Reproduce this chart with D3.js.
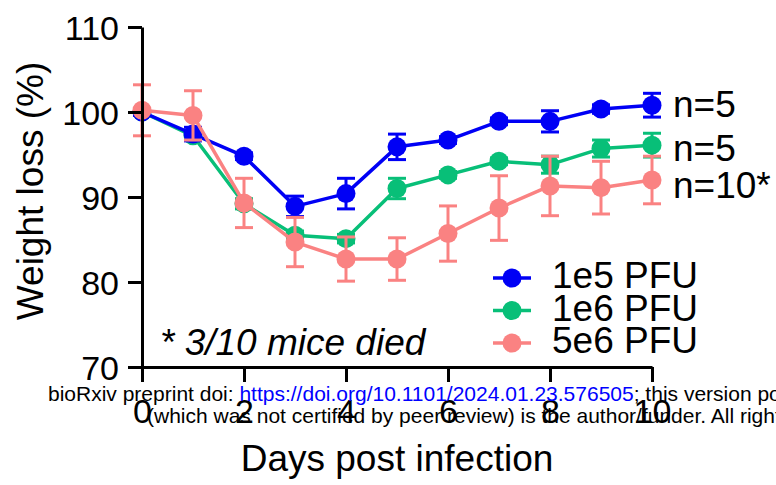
<!DOCTYPE html>
<html>
<head>
<meta charset="utf-8">
<script src="https://cdn.jsdelivr.net/npm/d3@7"></script>
<style>
    html, body { margin: 0; padding: 0; background: #fff; }
    svg { display: block; font-family: "Liberation Sans", Arial, sans-serif; }
</style>
</head>
<body>
<svg id="chart" width="776" height="485"></svg>
<script>
// values (mean +/- error), days 0..10
var days = [0, 1, 2, 3, 4, 5, 6, 7, 8, 9, 10];
var yTicks = [70, 80, 90, 100, 110];
var xTicks = [0, 2, 4, 6, 8, 10];

var mean1e5 = [100.0, 97.4, 94.8, 88.9, 90.4, 95.9, 96.7, 98.9, 98.9, 100.35, 100.8];
var err1e5  = [0.4, 0.8, 0.4, 1.2, 1.8, 1.5, 0.4, 0.4, 1.25, 0.5, 1.4];

var mean1e6 = [100.0, 97.2, 89.2, 85.5, 85.1, 91.0, 92.6, 94.2, 93.8, 95.7, 96.1];
var err1e6  = [0.3, 0.5, 0.6, 0.5, 0.5, 1.2, 0.4, 0.4, 1.0, 1.0, 1.4];

var mean5e6 = [100.2, 99.6, 89.3, 84.7, 82.7, 82.7, 85.7, 88.7, 91.3, 91.1, 92.0];
var err5e6  = [3.0, 2.9, 2.9, 2.9, 2.6, 2.5, 3.25, 3.8, 3.5, 3.1, 2.8];

var seriesNames = ['1e5 PFU', '1e6 PFU', '5e6 PFU'];
var seriesCounts = ['n=5', 'n=5', 'n=10*'];

(function() {
    'use strict';

    var colors = {'1e5 PFU': '#0000f5', '1e6 PFU': '#08bf78', '5e6 PFU': '#fa8282'};

    var series = [
        {name: seriesNames[0], mean: mean1e5, err: err1e5, n: seriesCounts[0]},
        {name: seriesNames[1], mean: mean1e6, err: err1e6, n: seriesCounts[1]},
        {name: seriesNames[2], mean: mean5e6, err: err5e6, n: seriesCounts[2]}
    ];
    // green underneath, then blue, pink on top
    var drawOrder = [series[1], series[0], series[2]];

    var svg = d3.select('#chart');
    svg.append('rect').attr('width', 776).attr('height', 485).attr('fill', '#fff');

    var x = d3.scaleLinear().domain([0, 10]).range([142, 652]),
        y = d3.scaleLinear().domain([70, 110]).range([367, 27]);

    // series
    var line = d3.line()
        .x(function(d) { return x(d.day); })
        .y(function(d) { return y(d.v); });

    drawOrder.forEach(function(s) {
        var c = colors[s.name];
        var pts = days.map(function(dd, i) { return {day: dd, v: s.mean[i], e: s.err[i]}; });
        var g = svg.append('g').attr('class', 'series');

        var bars = g.selectAll('g.err').data(pts).enter().append('g').attr('class', 'err')
            .attr('stroke', c).attr('stroke-width', 3).attr('fill', 'none');
        bars.append('line')
            .attr('x1', function(d) { return x(d.day); })
            .attr('x2', function(d) { return x(d.day); })
            .attr('y1', function(d) { return y(d.v + d.e); })
            .attr('y2', function(d) { return y(d.v - d.e); });
        [1, -1].forEach(function(sign) {
            bars.append('line')
                .attr('x1', function(d) { return x(d.day) - 9; })
                .attr('x2', function(d) { return x(d.day) + 9; })
                .attr('y1', function(d) { return y(d.v + sign * d.e); })
                .attr('y2', function(d) { return y(d.v + sign * d.e); });
        });

        g.append('path').datum(pts)
            .attr('d', line)
            .attr('fill', 'none')
            .attr('stroke', c)
            .attr('stroke-width', 3.5)
            .attr('stroke-linejoin', 'round');

        g.selectAll('circle').data(pts).enter().append('circle')
            .attr('cx', function(d) { return x(d.day); })
            .attr('cy', function(d) { return y(d.v); })
            .attr('r', 9.5)
            .attr('fill', c);
    });

    // axes
    var yAxis = svg.append('g')
        .attr('transform', 'translate(' + x(0) + ',0)')
        .call(d3.axisLeft(y).tickValues(yTicks).tickSize(14).tickSizeOuter(0).tickPadding(9));
    var xAxis = svg.append('g')
        .attr('transform', 'translate(0,' + y(70) + ')')
        .call(d3.axisBottom(x).tickValues(xTicks).tickSize(15).tickSizeOuter(0).tickPadding(17));

    [yAxis, xAxis].forEach(function(a) {
        a.select('.domain').attr('stroke', '#000').attr('stroke-width', 3);
        a.selectAll('.tick line').attr('stroke', '#000').attr('stroke-width', 3);
        a.selectAll('.tick text')
            .attr('fill', '#000')
            .style('font-family', '"Liberation Sans", Arial, sans-serif')
            .style('font-size', '34px');
    });
    yAxis.selectAll('.tick text').attr('dy', '0.36em');

    // axis titles
    svg.append('text')
        .attr('transform', 'translate(43,191) rotate(-90)')
        .attr('text-anchor', 'middle')
        .style('font-size', '37px')
        .text('Weight loss (%)');
    svg.append('text')
        .attr('x', 397).attr('y', 471)
        .attr('text-anchor', 'middle')
        .style('font-size', '37px')
        .text('Days post infection');

    // n labels at line ends
    var nY = [117, 161, 198];
    series.forEach(function(s, i) {
        svg.append('text')
            .attr('x', 673).attr('y', nY[i])
            .style('font-size', '37px')
            .text(s.n);
    });

    // legend
    var legend = svg.append('g').attr('class', 'legend');
    series.forEach(function(s, i) {
        var ly = 278 + i * 32.5;
        legend.append('line')
            .attr('x1', 493).attr('x2', 531)
            .attr('y1', ly).attr('y2', ly)
            .attr('stroke', colors[s.name]).attr('stroke-width', 3.5);
        legend.append('circle')
            .attr('cx', 512).attr('cy', ly).attr('r', 9.5)
            .attr('fill', colors[s.name]);
        legend.append('text')
            .attr('x', 552).attr('y', ly + 10)
            .style('font-size', '37px')
            .text(s.name);
    });

    // annotation
    svg.append('text')
        .attr('x', 160).attr('y', 355)
        .style('font-size', '37px')
        .style('font-style', 'italic')
        .text('* 3/10 mice died');

    // preprint watermark
    var wm = svg.append('g').style('font-size', '21px').attr('fill', '#000');
    var l1 = wm.append('text').attr('x', 48).attr('y', 401);
    l1.append('tspan').text('bioRxiv preprint doi: ');
    l1.append('tspan').attr('fill', '#0000ff').text('https://doi.org/10.1101/2024.01.23.576505');
    l1.append('tspan').text('; this version posted January 25, 2024. The copyright holder for this preprint');
    wm.append('text').attr('x', 147).attr('y', 423)
        .text('(which was not certified by peer review) is the author/funder. All rights reserved. No reuse allowed without permission.');
})();
</script>
</body>
</html>
